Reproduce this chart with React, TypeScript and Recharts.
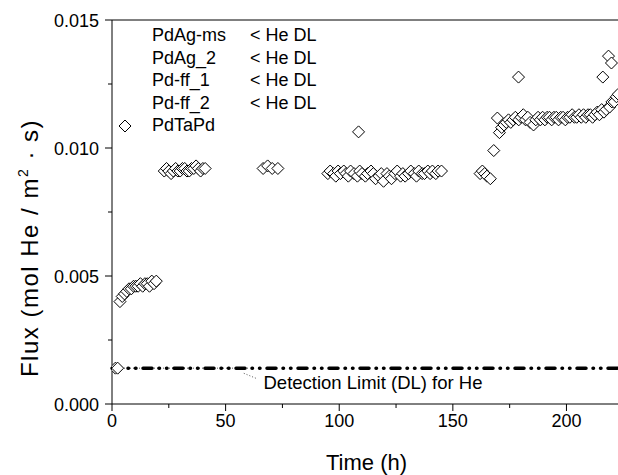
import React from 'react';
import { ScatterChart, Scatter, XAxis, YAxis, ReferenceLine, Legend } from 'recharts';

// ---- data ----
const pdtapdTime = [
  1.5, 2.5,
  3.5, 4.5, 5.5, 6.5, 7.5, 8.5, 9.5, 10.5, 11.5, 12.5, 13.5, 14.5, 15.5, 16.5, 17.5, 18.5, 19.5,
  23, 24, 25, 26, 27, 28, 29, 30, 31, 32, 33, 34, 35, 36, 37, 38, 39, 40, 41,
  66.5, 68.5, 70.5, 73,
  95, 96, 97.5, 98.5, 99.5, 100.5, 102, 103, 104, 105, 106.5, 108, 109, 110, 111.5, 112.5,
  114, 115, 116, 117.5, 118.5, 119.5, 121, 122, 123, 124.5, 125.5, 127, 128, 129, 130.5,
  131.5, 133, 134, 135, 136.5, 137.5, 139, 140, 141, 142.5, 143.5, 145,
  108.5,
  162, 163, 164, 165, 166.5, 168, 169.6, 170.5, 171.5, 172.5, 173.5, 174.5, 175.5, 176.5, 177.5,
  178.9,
  179, 180, 181, 182, 183, 184, 185.5, 186.5, 187.5, 188.5, 189.5, 190.5, 191.5, 192.5, 193.5,
  194.5, 195.5, 196.5, 197.5, 198.5, 199.5, 200.5, 201.5, 202.5, 203.5, 204.5, 205.5, 206.5,
  207.5, 208.5, 209.5, 210.5, 211.5, 212.5, 213.5, 214.5, 215.5, 216, 216.5, 217.5, 218.5, 219,
  219.8, 220, 221, 222, 222.8,
];
const pdtapdFlux = [
  0.0014, 0.0014,
  0.0040, 0.0042, 0.0043, 0.0044, 0.0045, 0.0045, 0.0046, 0.0046, 0.0046, 0.0047, 0.0046, 0.0047, 0.0047, 0.0046, 0.0048, 0.0047, 0.0048,
  0.0091, 0.0092, 0.0091, 0.0090, 0.0091, 0.0092, 0.0091, 0.0091, 0.0092, 0.0092, 0.0091, 0.0091, 0.0092, 0.0092, 0.0093, 0.0092, 0.0091, 0.0092, 0.0092,
  0.0092, 0.0093, 0.0092, 0.0092,
  0.0090, 0.0091, 0.0090, 0.0089, 0.0091, 0.0090, 0.0091, 0.0090, 0.0089, 0.0091, 0.0090, 0.0089, 0.0091, 0.0090, 0.0089, 0.0090,
  0.0091, 0.0090, 0.0088, 0.0089, 0.0090, 0.0087, 0.0090, 0.0089, 0.0088, 0.0090, 0.0091, 0.0089, 0.0090, 0.0089, 0.0090,
  0.0091, 0.0090, 0.0089, 0.0091, 0.0090, 0.0090, 0.0091, 0.0090, 0.0091, 0.0090, 0.0091, 0.0091,
  0.01063,
  0.0090, 0.0091, 0.0090, 0.0089, 0.0088, 0.0099, 0.01117, 0.0106, 0.0108, 0.0109, 0.0110, 0.0111, 0.0110, 0.0111, 0.0112,
  0.01277,
  0.0111, 0.0112, 0.0113, 0.0111, 0.0112, 0.0110, 0.0109, 0.0111, 0.0112, 0.0111, 0.0112, 0.0111, 0.0112, 0.0112, 0.0111,
  0.0112, 0.0112, 0.0111, 0.0112, 0.0112, 0.0111, 0.0112, 0.0112, 0.0113, 0.0112, 0.0112, 0.0113, 0.0112,
  0.0113, 0.0112, 0.0113, 0.0113, 0.0112, 0.0113, 0.0114, 0.0113, 0.0115, 0.01277, 0.0114, 0.0115, 0.01359, 0.0116,
  0.01332, 0.0118, 0.0118, 0.0120, 0.0121,
];
const seriesName = 'PdTaPd';
const belowDLMembranes = ['PdAg-ms', 'PdAg_2', 'Pd-ff_1', 'Pd-ff_2'];
const belowDLText = '< He DL';
const detectionLimit = 0.0014;
const detectionLabel = 'Detection Limit (DL) for He';
const xTicksMajor = [0, 50, 100, 150, 200];
const xTicksAll = [0, 25, 50, 75, 100, 125, 150, 175, 200];
const yTicksMajor = [0, 0.005, 0.01, 0.015];
const yTicksAll = [0, 0.0025, 0.005, 0.0075, 0.01, 0.0125, 0.015];
const xTitle = 'Time (h)';

const data = pdtapdTime.map((t, i) => ({ t, flux: pdtapdFlux[i] }));

const FONT = '"Liberation Sans", Arial, Helvetica, sans-serif';
const isMajor = (v: number, list: number[]) => list.some((m) => Math.abs(m - v) < 1e-9);

const X_TICK_SIZE = 7;
const X_TICK_MARGIN = 3;
const Y_TICK_SIZE = 7;
const Y_TICK_MARGIN = 5;

const XTick = (props: any) => {
  const { x, y, payload } = props;
  const axisY = y - X_TICK_SIZE - X_TICK_MARGIN;
  const major = isMajor(payload.value, xTicksMajor);
  return (
    <g>
      <line x1={x} x2={x} y1={axisY} y2={axisY + (major ? 7 : 4)} stroke="#000" strokeWidth={1} />
      {major && (
        <text x={x} y={axisY + 22.5} textAnchor="middle" fontSize={18} fontFamily={FONT} fill="#000">
          {payload.value}
        </text>
      )}
    </g>
  );
};

const YTick = (props: any) => {
  const { x, y, payload } = props;
  const axisX = x + Y_TICK_SIZE + Y_TICK_MARGIN;
  const major = isMajor(payload.value, yTicksMajor);
  return (
    <g>
      <line x1={axisX - (major ? 7 : 4)} x2={axisX} y1={y} y2={y} stroke="#000" strokeWidth={1} />
      {major && (
        <text x={axisX - 13} y={y + 6.5} textAnchor="end" fontSize={18} fontFamily={FONT} fill="#000">
          {payload.value.toFixed(3)}
        </text>
      )}
    </g>
  );
};

const Diamond = (props: any) => {
  const { cx, cy } = props;
  const r = 6;
  return (
    <path
      d={`M${cx},${cy - r}L${cx + r},${cy}L${cx},${cy + r}L${cx - r},${cy}Z`}
      fill="#fff"
      stroke="#000"
      strokeWidth={1}
    />
  );
};

const LegendBox = () => (
  <div style={{ fontFamily: FONT, fontSize: 18, color: '#000', lineHeight: '22.5px' }}>
    {belowDLMembranes.map((m) => (
      <div key={m} style={{ display: 'flex', whiteSpace: 'nowrap', height: 22.5 }}>
        <span style={{ width: 36, flex: '0 0 36px' }} />
        <span style={{ width: 98, flex: '0 0 98px' }}>{m}</span>
        <span>{belowDLText}</span>
      </div>
    ))}
    <div style={{ display: 'flex', whiteSpace: 'nowrap', height: 22.5 }}>
      <svg width={36} height={23} style={{ display: 'block', flex: '0 0 36px' }}>
        <path d="M9,6L15,12L9,18L3,12Z" fill="#fff" stroke="#000" strokeWidth={1} />
      </svg>
      <span>{seriesName}</span>
    </div>
  </div>
);

export default function App() {
  return (
    <div style={{ position: 'absolute', left: 0, top: 0, width: 618, height: 475, overflow: 'hidden', background: '#fff' }}>
      <ScatterChart width={621} height={475} margin={{ top: 20, right: 0, bottom: 0, left: 0 }}>
        <XAxis
          xAxisId="main"
          type="number"
          dataKey="t"
          domain={[0, 224]}
          allowDataOverflow
          ticks={xTicksAll}
          interval={0}
          height={71}
          tickSize={X_TICK_SIZE}
          tickMargin={X_TICK_MARGIN}
          tickLine={false}
          tick={<XTick />}
          axisLine={{ stroke: '#000', strokeWidth: 1 }}
          label={() => (
            <text x={366.5} y={470} textAnchor="middle" fontSize={22} fontFamily={FONT} fill="#000">
              {xTitle}
            </text>
          )}
        />
        <XAxis
          xAxisId="top"
          orientation="top"
          type="number"
          dataKey="t"
          domain={[0, 224]}
          allowDataOverflow
          ticks={xTicksAll.slice(1)}
          interval={0}
          mirror
          tick={false}
          tickSize={6}
          tickLine={{ stroke: '#000' }}
          axisLine={{ stroke: '#000', strokeWidth: 1 }}
        />
        <YAxis
          yAxisId="main"
          type="number"
          dataKey="flux"
          domain={[0, 0.015]}
          allowDataOverflow
          ticks={yTicksAll}
          interval={0}
          width={112}
          tickSize={Y_TICK_SIZE}
          tickMargin={Y_TICK_MARGIN}
          tickLine={false}
          tick={<YTick />}
          axisLine={{ stroke: '#000', strokeWidth: 1 }}
          label={() => (
            <text transform="translate(38,248) rotate(-90)" textAnchor="middle" fontSize={24} letterSpacing={1.5} fontFamily={FONT} fill="#000">
              Flux (mol He / m
              <tspan fontSize={14} dy={-10}>2</tspan>
              <tspan dy={10}> · s)</tspan>
            </text>
          )}
        />
        <YAxis
          yAxisId="right"
          orientation="right"
          type="number"
          dataKey="flux"
          domain={[0, 0.015]}
          allowDataOverflow
          ticks={yTicksAll.slice(1, -1)}
          interval={0}
          mirror
          tick={false}
          tickSize={5}
          tickLine={{ stroke: '#000' }}
          axisLine={{ stroke: '#000', strokeWidth: 1 }}
        />
        <ReferenceLine
          xAxisId="main"
          yAxisId="main"
          segment={[{ x: 0, y: detectionLimit }, { x: 60, y: detectionLimit }]}
          stroke="#555"
          strokeWidth={1}
          strokeDasharray="1 2"
        />
        <ReferenceLine
          xAxisId="main"
          yAxisId="main"
          y={detectionLimit}
          stroke="#000"
          strokeWidth={3.5}
          strokeLinecap="round"
          strokeDasharray="9 7 0.5 7 0.5 7"
          label={(p: any) => {
            const vb = p.viewBox || {};
            return (
              <text x={(vb.x ?? 112) + 261} y={(vb.y ?? 368) + 21} textAnchor="middle" fontSize={18.5} fontFamily={FONT} fill="#000">
                {detectionLabel}
              </text>
            );
          }}
        />
        <ReferenceLine
          xAxisId="main"
          yAxisId="main"
          segment={[{ x: 58, y: 0.0012 }, { x: 63.5, y: 0.0010 }]}
          stroke="#555"
          strokeWidth={1}
          strokeDasharray="1 2"
        />
        <Scatter
          xAxisId="main"
          yAxisId="main"
          name={seriesName}
          data={data}
          dataKey="flux"
          shape={<Diamond />}
          isAnimationActive={false}
        />
        <Legend
          layout="vertical"
          align="center"
          verticalAlign="middle"
          content={() => <LegendBox />}
          wrapperStyle={{ top: 24, left: 116, width: 280, height: 'auto' }}
        />
      </ScatterChart>
    </div>
  );
}
